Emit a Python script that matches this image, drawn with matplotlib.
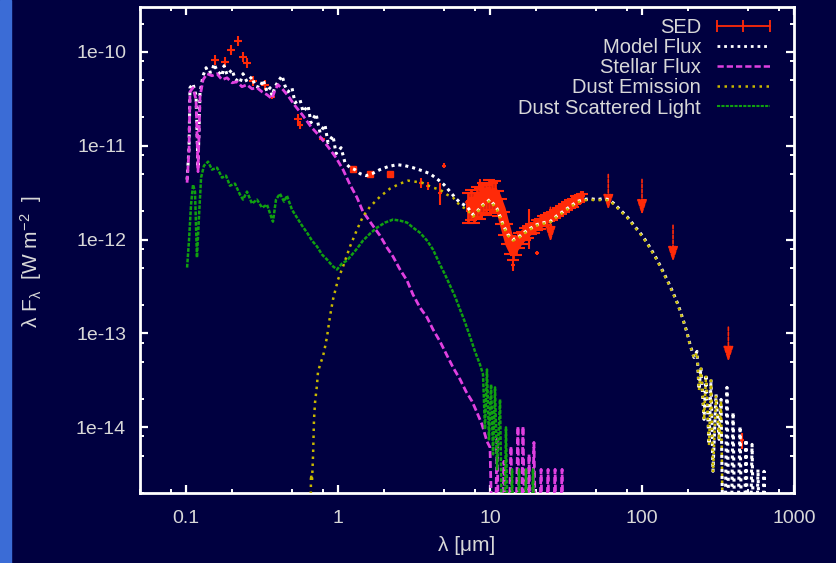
import numpy as np
import matplotlib
matplotlib.use("Agg")
import matplotlib.pyplot as plt
from matplotlib.lines import Line2D
from matplotlib.patches import Rectangle
from matplotlib.ticker import FixedLocator, FixedFormatter, LogLocator, NullFormatter

plt.rcParams['font.family'] = ['Liberation Sans', 'DejaVu Sans']
plt.rcParams['mathtext.fontset'] = 'custom'
plt.rcParams['mathtext.rm'] = 'Liberation Sans'
plt.rcParams['mathtext.it'] = 'Liberation Sans:italic'

# ---------------- data (log10 lambda [um], log10 flux [W m^-2]) ----------------
LOW = -16.0  # values that fall below the plotted range

model_log_lam = [-0.993, -0.980, -0.974, -0.954, -0.934, -0.921, -0.908, -0.888, -0.868, -0.855,
                 -0.829, -0.816, -0.796, -0.763, -0.750, -0.730, -0.697, -0.678, -0.645, -0.625,
                 -0.599, -0.566, -0.546, -0.513, -0.493, -0.467, -0.447, -0.434, -0.414, -0.395,
                 -0.368, -0.349, -0.329, -0.303, -0.283, -0.250, -0.230, -0.197, -0.178, -0.145,
                 -0.118, -0.086, -0.066, -0.033, -0.013, 0.020, 0.046, 0.079, 0.112, 0.145,
                 0.184, 0.224, 0.276, 0.329, 0.388, 0.441, 0.493, 0.553, 0.605, 0.658,
                 0.697, 0.737, 0.770, 0.803, 0.849, 0.888, 0.914, 0.954, 1.000, 1.046,
                 1.086, 1.118, 1.151, 1.184, 1.224, 1.263, 1.309, 1.355, 1.395, 1.441,
                 1.480, 1.526, 1.572, 1.612, 1.658, 1.704, 1.743, 1.783, 1.816, 1.855,
                 1.901, 1.954, 2.007, 2.053, 2.099, 2.138, 2.171, 2.204, 2.237, 2.270,
                 2.296, 2.316, 2.342, 2.362, 2.375, 2.388, 2.408, 2.421, 2.441, 2.454,
                 2.467, 2.487, 2.507, 2.520, 2.539, 2.559, 2.579, 2.599, 2.618, 2.645,
                 2.664, 2.684, 2.704, 2.724, 2.743, 2.763, 2.783, 2.803, 2.822]
model_log_flux = [-11.362, -11.021, -10.383, -10.340, -10.468, -11.234, -10.436, -10.255, -10.170, -10.223,
                  -10.213, -10.128, -10.202, -10.255, -10.149, -10.245, -10.191, -10.287, -10.330, -10.234,
                  -10.319, -10.266, -10.362, -10.383, -10.298, -10.426, -10.383, -10.468, -10.372, -10.319,
                  -10.255, -10.362, -10.426, -10.383, -10.543, -10.511, -10.638, -10.574, -10.755, -10.660,
                  -10.862, -10.777, -10.968, -10.894, -11.085, -11.021, -11.181, -11.234, -11.255, -11.298,
                  -11.319, -11.298, -11.255, -11.223, -11.202, -11.213, -11.234, -11.266, -11.298, -11.362,
                  -11.415, -11.489, -11.553, -11.606, -11.649, -11.734, -11.702, -11.628, -11.574, -11.670,
                  -11.840, -11.947, -12.000, -11.979, -11.926, -11.883, -11.840, -11.819, -11.809, -11.745,
                  -11.702, -11.649, -11.596, -11.574, -11.564, -11.574, -11.564, -11.574, -11.617, -11.681,
                  -11.755, -11.862, -11.968, -12.085, -12.213, -12.340, -12.447, -12.564, -12.691, -12.851,
                  -12.989, -13.117, -13.255, -13.191, -13.596, -13.362, -13.915, -13.436, -14.181, -13.489,
                  -14.468, -13.649, -14.128, -13.702, LOW, -13.574, LOW, -13.840, LOW, -13.989,
                  LOW, -14.128, LOW, -14.181, LOW, -14.447, LOW, -14.468, LOW]

stellar_log_lam = [-0.993, -0.980, -0.974, -0.954, -0.934, -0.921, -0.908, -0.888, -0.862, -0.829,
                   -0.796, -0.763, -0.730, -0.697, -0.664, -0.632, -0.599, -0.566, -0.533, -0.500,
                   -0.467, -0.434, -0.414, -0.395, -0.362, -0.329, -0.283, -0.230, -0.178, -0.118,
                   -0.066, -0.013, 0.033, 0.079, 0.125, 0.164, 0.224, 0.276, 0.322, 0.362,
                   0.408, 0.454, 0.493, 0.539, 0.586, 0.625, 0.671, 0.717, 0.757, 0.803,
                   0.842, 0.882, 0.914, 0.947, 0.980, 1.000, 1.026, 1.046, 1.066, 1.092,
                   1.112, 1.138, 1.158, 1.184, 1.197, 1.217, 1.237, 1.257, 1.270, 1.289,
                   1.309, 1.336, 1.355, 1.382, 1.401, 1.428, 1.447, 1.474, 1.493]
stellar_log_flux = [-11.394, -11.043, -10.426, -10.383, -10.511, -11.277, -10.479, -10.298, -10.234, -10.255,
                    -10.234, -10.298, -10.277, -10.330, -10.319, -10.372, -10.351, -10.394, -10.383, -10.426,
                    -10.457, -10.500, -10.404, -10.351, -10.404, -10.468, -10.574, -10.681, -10.798, -10.904,
                    -11.011, -11.128, -11.255, -11.415, -11.553, -11.702, -11.840, -11.957, -12.085, -12.181,
                    -12.319, -12.436, -12.585, -12.723, -12.830, -12.957, -13.085, -13.234, -13.362, -13.489,
                    -13.617, -13.723, -13.840, -13.968, -14.149, -14.213, LOW, -14.128, LOW, -14.362,
                    LOW, -14.202, LOW, -13.989, LOW, -13.989, LOW, -14.287, LOW, -14.160,
                    LOW, -14.447, LOW, -14.447, LOW, -14.447, LOW, -14.447, LOW]

dust_log_lam = [-0.184, -0.178, -0.171, -0.164, -0.158, -0.151, -0.138, -0.132, -0.118, -0.099,
                -0.086, -0.072, -0.053, -0.033, 0.000, 0.033, 0.079, 0.125, 0.164, 0.211,
                0.276, 0.342, 0.408, 0.461, 0.507, 0.553, 0.625, 0.671, 0.717, 0.757,
                0.803, 0.849, 0.888, 0.914, 0.954, 1.000, 1.046, 1.086, 1.118, 1.151,
                1.184, 1.224, 1.263, 1.309, 1.355, 1.395, 1.441, 1.480, 1.526, 1.572,
                1.612, 1.658, 1.704, 1.743, 1.783, 1.816, 1.855, 1.901, 1.954, 2.007,
                2.053, 2.099, 2.138, 2.171, 2.204, 2.237, 2.270, 2.296, 2.316, 2.342,
                2.362, 2.375, 2.388, 2.408, 2.421, 2.441, 2.454, 2.467, 2.487, 2.507,
                2.520, 2.539]
dust_log_flux = [LOW, -14.500, -14.574, -14.287, -13.915, -13.734, -13.543, -13.415, -13.330, -13.245,
                 -13.149, -13.032, -12.819, -12.638, -12.426, -12.287, -12.074, -11.894, -11.755, -11.649,
                 -11.543, -11.457, -11.404, -11.372, -11.383, -11.394, -11.447, -11.468, -11.521, -11.553,
                 -11.638, -11.681, -11.755, -11.712, -11.638, -11.584, -11.680, -11.850, -11.957, -12.010,
                 -11.989, -11.936, -11.893, -11.850, -11.829, -11.819, -11.755, -11.712, -11.659, -11.606,
                 -11.584, -11.574, -11.584, -11.574, -11.584, -11.627, -11.691, -11.765, -11.872, -11.978,
                 -12.095, -12.223, -12.350, -12.457, -12.574, -12.701, -12.861, -12.999, -13.127, -13.265,
                 -13.201, -13.606, -13.372, -13.925, -13.446, -14.191, -13.499, -14.478, -13.659, -14.138,
                 -13.712, LOW]

scat_log_lam = [-0.993, -0.980, -0.967, -0.954, -0.941, -0.928, -0.914, -0.901, -0.882, -0.855,
                -0.829, -0.796, -0.763, -0.737, -0.711, -0.678, -0.645, -0.625, -0.599, -0.566,
                -0.533, -0.500, -0.467, -0.447, -0.428, -0.408, -0.382, -0.355, -0.336, -0.303,
                -0.270, -0.237, -0.204, -0.171, -0.138, -0.105, -0.072, -0.039, -0.007, 0.026,
                0.059, 0.092, 0.125, 0.164, 0.211, 0.257, 0.309, 0.362, 0.408, 0.454,
                0.493, 0.539, 0.586, 0.625, 0.671, 0.704, 0.737, 0.770, 0.803, 0.836,
                0.868, 0.901, 0.934, 0.954, 0.967, 0.980, 0.993, 1.007, 1.020, 1.033,
                1.046, 1.066, 1.086, 1.105, 1.125, 1.145, 1.164, 1.191, 1.211, 1.237,
                1.257, 1.283, 1.303]
scat_log_flux = [-12.298, -12.000, -11.628, -11.415, -11.489, -12.191, -11.734, -11.340, -11.213, -11.170,
                 -11.255, -11.234, -11.340, -11.319, -11.426, -11.404, -11.521, -11.574, -11.489, -11.617,
                 -11.574, -11.660, -11.628, -11.723, -11.809, -11.574, -11.511, -11.596, -11.532, -11.681,
                 -11.766, -11.851, -11.926, -12.011, -12.074, -12.160, -12.213, -12.277, -12.319, -12.255,
                 -12.223, -12.160, -12.096, -12.011, -11.936, -11.872, -11.819, -11.787, -11.798, -11.819,
                 -11.872, -11.926, -12.011, -12.106, -12.266, -12.372, -12.489, -12.606, -12.745, -12.883,
                 -13.032, -13.191, -13.330, -13.436, -14.021, -13.383, -14.128, -13.543, -14.287, -13.574,
                 -14.447, -13.702, LOW, -14.000, LOW, -14.447, LOW, -14.447, LOW, -14.447,
                 LOW, -14.447, LOW]

# photometric SED points: log lambda, log flux, fractional y error, fractional x error
sed_log_lam = [-0.809, -0.743, -0.704, -0.658, -0.625, -0.599, -0.559, -0.480, -0.434, -0.263,
               -0.250, -0.105, 0.546, 0.592, 0.671, 0.697, 0.934,
               1.151, 1.257, 1.309, 2.658]
sed_log_flux = [-10.085, -10.106, -9.979, -9.883, -10.053, -10.117, -10.309, -10.351, -10.479, -10.713,
                -10.777, -10.926, -11.394, -11.426, -11.500, -11.213, -11.415,
                -12.266, -11.840, -12.138, -14.138]
sed_yerr = [0.12, 0.12, 0.12, 0.12, 0.12, 0.12, 0.12, 0.12, 0.05, 0.12,
            0.10, 0.05, 0.12, 0.10, 0.27, 0.06, 0.15,
            0.15, 0.45, 0.05, 0.20]
sed_xerr = [0.06, 0.06, 0.06, 0.06, 0.06, 0.06, 0.06, 0.06, 0.04, 0.06,
            0.05, 0.04, 0.03, 0.03, 0.03, 0.03, 0.03,
            0.03, 0.03, 0.03, 0.03]

# near-infrared photometry (J, H, K-like points)
nir_log_lam = [0.099, 0.211, 0.342]
nir_log_flux = [-11.245, -11.298, -11.298]

# IRS spectrum part of the SED
irs_log_lam = [0.855, 0.875, 0.895, 0.914, 0.934, 0.954, 0.974, 0.993, 1.013, 1.033,
               1.053, 1.072, 1.092, 1.112, 1.132, 1.151, 1.171, 1.191, 1.211, 1.230,
               1.250, 1.270, 1.289, 1.309, 1.329, 1.349, 1.368, 1.388, 1.408, 1.428,
               1.447, 1.467, 1.487, 1.507, 1.526, 1.546, 1.566, 1.586, 1.605]
irs_log_flux = [-11.638, -11.606, -11.638, -11.574, -11.596, -11.532, -11.553, -11.500, -11.532, -11.511,
                -11.596, -11.681, -11.809, -11.926, -12.043, -12.106, -12.064, -12.000, -11.979, -11.936,
                -11.915, -11.883, -11.872, -11.840, -11.830, -11.798, -11.787, -11.755, -11.745, -11.723,
                -11.702, -11.681, -11.660, -11.638, -11.617, -11.606, -11.574, -11.564, -11.543]
irs_yerr = [0.35, 0.35, 0.35, 0.35, 0.35, 0.35, 0.35, 0.35, 0.35, 0.35,
            0.3, 0.3, 0.28, 0.25, 0.22, 0.22, 0.2, 0.18, 0.15, 0.15,
            0.14, 0.13, 0.12, 0.12, 0.12, 0.12, 0.12, 0.1, 0.1, 0.1,
            0.1, 0.1, 0.1, 0.1, 0.1, 0.1, 0.08, 0.08, 0.08]

# upper limits: wavelength [um], flux of the limit and arrow tip
ul_lam = [25, 60, 100, 160, 370]
ul_top = [2.36e-12, 5.28e-12, 4.68e-12, 1.52e-12, 1.25e-13]
ul_tip = [8.85e-13, 1.94e-12, 1.71e-12, 5.42e-13, 4.68e-14]

xticks = [0.1, 1, 10, 100, 1000]
xtick_labels = ['0.1', '1', '10', '100', '1000']
yticks = [1e-14, 1e-13, 1e-12, 1e-11, 1e-10]
ytick_labels = ['1e-14', '1e-13', '1e-12', '1e-11', '1e-10']

# ---------------- style ----------------
BG = '#000040'
TXT = '#d8d8d8'
RED = '#ff2a08'
MAG = '#e040e0'
YEL = '#c8b800'
GRN = '#10a010'

fig = plt.figure(figsize=(8.37, 5.63), dpi=100, facecolor=BG)
fig.patches.append(Rectangle((0, 0), 11 / 837, 1, transform=fig.transFigure,
                             color='#3b6cd6', zorder=0))
ax = fig.add_axes([140 / 837, 1 - 493 / 563, 654 / 837, 486 / 563])
ax.set_facecolor(BG)
ax.set_xscale('log')
ax.set_yscale('log')
ax.set_xlim(0.0498, 1000)
ax.set_ylim(2.0e-15, 3.0e-10)


def tolin(a):
    return 10 ** np.array(a)


# SED
sl = tolin(sed_log_lam)
sf = tolin(sed_log_flux)
ax.errorbar(sl, sf, yerr=sf * np.array(sed_yerr), xerr=sl * np.array(sed_xerr), fmt='none',
            ecolor=RED, elinewidth=1.5, capsize=0, zorder=2)
nl = tolin(nir_log_lam)
nf = tolin(nir_log_flux)
ax.errorbar(nl, nf, yerr=nf * 0.06, xerr=nl * 0.04, fmt='s', ms=5, color=RED,
            ecolor=RED, elinewidth=1.5, capsize=0, zorder=2)
il = tolin(irs_log_lam)
iff = tolin(irs_log_flux)
ax.errorbar(il, iff, yerr=iff * np.array(irs_yerr), xerr=il * 0.015, fmt='none',
            ecolor=RED, elinewidth=2.0, capsize=4, capthick=1.5, zorder=2)
ax.plot(il, iff, color=RED, lw=7, zorder=2, solid_capstyle='butt')
for lam, top, tip in zip(ul_lam, ul_top, ul_tip):
    ax.annotate('', xy=(lam, tip), xytext=(lam, top),
                arrowprops=dict(arrowstyle='-|>,head_length=0.9,head_width=0.3',
                                color=RED, lw=1.2, ls=(0, (2, 1))), zorder=2.5)

ax.plot(tolin(model_log_lam), tolin(model_log_flux), color='white', lw=2.2,
        ls=(0, (1, 1.3)), zorder=3)
ax.plot(tolin(stellar_log_lam), tolin(stellar_log_flux), color=MAG, lw=2.0,
        ls=(0, (2.5, 1.1)), zorder=4)
ax.plot(tolin(dust_log_lam), tolin(dust_log_flux), color=YEL, lw=1.8,
        ls=(0, (1, 1.8)), zorder=5)
ax.plot(tolin(scat_log_lam), tolin(scat_log_flux), color=GRN, lw=1.8,
        ls=(0, (1.5, 0.6)), zorder=6)

# axes styling
for s in ax.spines.values():
    s.set_color('white')
    s.set_linewidth(2)
ax.xaxis.set_major_locator(FixedLocator(xticks))
ax.xaxis.set_major_formatter(FixedFormatter(xtick_labels))
ax.yaxis.set_major_locator(FixedLocator(yticks))
ax.yaxis.set_major_formatter(FixedFormatter(ytick_labels))
ax.xaxis.set_minor_locator(LogLocator(base=10, subs=(2, 5, 8)))
ax.yaxis.set_minor_locator(LogLocator(base=10, subs=(2, 5, 8)))
ax.xaxis.set_minor_formatter(NullFormatter())
ax.yaxis.set_minor_formatter(NullFormatter())
ax.tick_params(which='both', direction='in', top=True, right=True, colors='white',
               labelcolor=TXT, labelsize=14)
ax.tick_params(which='major', length=6, width=1.6)
ax.tick_params(which='minor', length=3, width=1.4)
ax.tick_params(axis='x', which='major', pad=12)
ax.tick_params(axis='y', which='major', pad=10)

ax.set_xlabel('λ [μm]', color=TXT, fontsize=15, labelpad=7)
ax.set_ylabel('λ F$_{\\mathregular{λ}}$  [W m$^{\\mathregular{-2}}$  ]', color=TXT, fontsize=15)
ax.yaxis.set_label_coords(-0.147, 0.475)

handles = [
    Line2D([], [], color=RED, lw=1.3, marker='|', ms=8, mew=1.3),
    Line2D([], [], color='white', lw=2.0, ls=(0, (1, 1.4))),
    Line2D([], [], color=MAG, lw=1.8, ls=(0, (2.5, 1.2))),
    Line2D([], [], color=YEL, lw=1.8, ls=(0, (1, 1.8))),
    Line2D([], [], color=GRN, lw=1.5, ls=(0, (1.5, 0.6))),
]
labels = ['SED', 'Model Flux', 'Stellar Flux', 'Dust Emission', 'Dust Scattered Light']
leg = ax.legend(handles, labels, loc='upper right', bbox_to_anchor=(0.972, 0.978),
                frameon=False, markerfirst=False, handlelength=3.2, handletextpad=0.5,
                labelspacing=0.06, borderpad=0, borderaxespad=0, numpoints=3,
                fontsize=14.5, labelcolor=TXT)

fig.savefig('out.png', dpi=100, facecolor=BG)
